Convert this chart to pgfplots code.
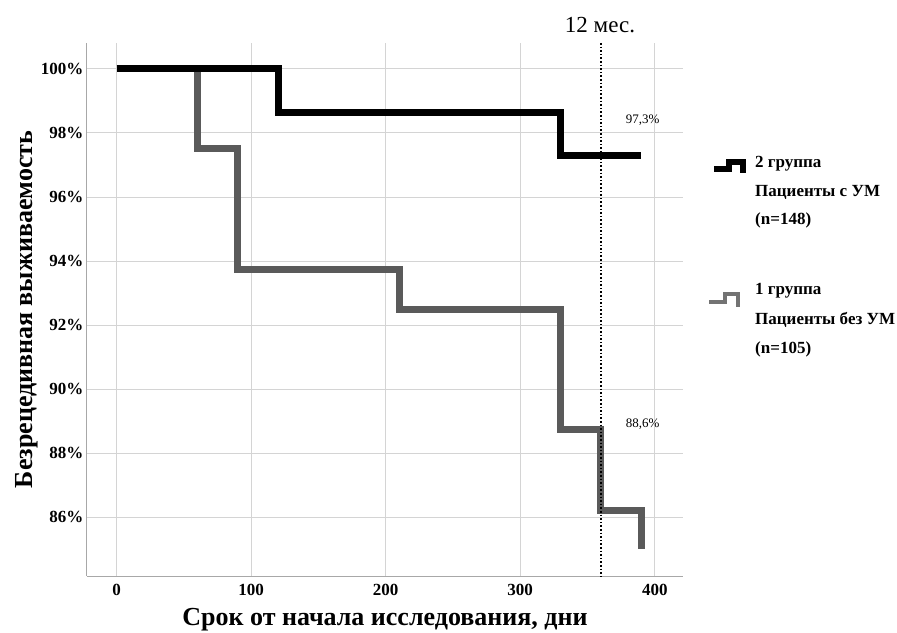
\documentclass[border=0pt]{standalone}
\usepackage{fontspec}
\setmainfont{Liberation Serif}
\usepackage{pgfplots}
\pgfplotsset{compat=1.18}
\definecolor{grp1}{HTML}{5A5A5A}
\definecolor{gridc}{HTML}{D4D4D4}
\definecolor{axc}{HTML}{A8A8A8}
\begin{document}
\begin{tikzpicture}[x=1pt,y=1pt]
\useasboundingbox (0,0) rectangle (897,632);
\begin{axis}[
  at={(87pt,56pt)}, anchor=south west,
  scale only axis, width=596pt, height=533pt,
  xmin=-22, xmax=421, ymin=84.16, ymax=100.81,
  axis x line*=bottom, axis y line*=left,
  axis line style={axc, line width=1pt, -},
  xtick={0,100,200,300,400}, ytick={86,88,...,100},
  yticklabels={86\%,88\%,90\%,92\%,94\%,96\%,98\%,100\%},
  grid=major, major grid style={gridc, line width=0.9pt},
  tick style={draw=none},
  ticklabel style={font=\fontsize{17}{19}\selectfont\bfseries},
  xticklabel style={yshift=-5pt},
  /pgf/number format/assume math mode=true,
  xlabel={Срок от начала исследования, дни},
  ylabel={Безрецедивная выживаемость},
  every axis x label/.style={at={(rel axis cs:0.5,0)}, yshift=-49pt, anchor=base, inner sep=0pt, font=\fontsize{26}{28}\selectfont\bfseries},
  every axis y label/.style={at={(rel axis cs:0,0.5)}, xshift=-54pt, rotate=90, anchor=base, inner sep=0pt, font=\fontsize{26}{28}\selectfont\bfseries},
  clip=false,
]
\addplot[grp1, line width=7pt, const plot, line join=miter] coordinates {
  (0,100) (60,97.5) (90,93.75) (210,92.5) (330,88.75) (360,86.2) (390,86.2) (390,85.0)};
\addplot[black, line width=7pt, const plot, line join=miter] coordinates {
  (0,100) (120,98.65) (330,97.3) (390,97.3)};
\draw[black, dotted, line width=1.6pt] (axis cs:360,100.81) -- (axis cs:360,84.16);
\node[font=\fontsize{13}{14}\selectfont] at (axis cs:391,98.4) {97,3\%};
\node[font=\fontsize{13}{14}\selectfont] at (axis cs:391,88.9) {88,6\%};
\end{axis}
\node[font=\fontsize{23}{25}\selectfont] at (600,607) {12 мес.};
% legend
\draw[black, line width=5.5pt, line join=miter] (714,463) -- (729,463) -- (729,470) -- (743,470) -- (743,459);
\draw[grp1!85, line width=4.5pt, line join=miter] (709,330) -- (725,330) -- (725,338) -- (738,338) -- (738,325);
\begin{scope}[every node/.style={anchor=west, inner sep=0pt, font=\fontsize{17}{19}\selectfont\bfseries}]
\node at (755,468) {2 группа};
\node at (755,440) {Пациенты с УМ};
\node at (755,412) {(n=148)};
\node at (755,341) {1 группа};
\node at (755,312) {Пациенты без УМ};
\node at (755,283) {(n=105)};
\end{scope}
\end{tikzpicture}
\end{document}
